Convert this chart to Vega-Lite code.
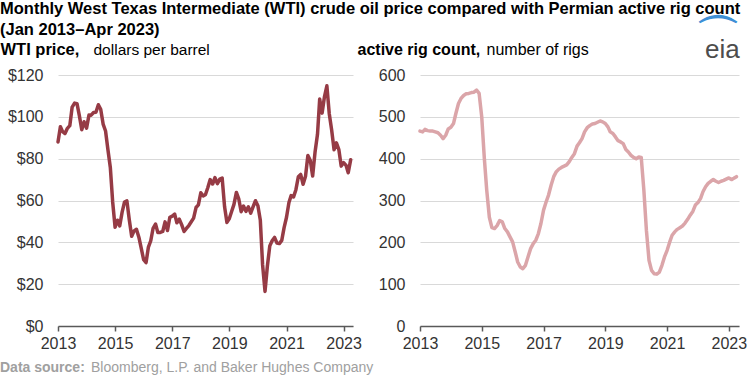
{
  "$schema": "https://vega.github.io/schema/vega-lite/v6.json",
  "padding": 0,
  "background": "#ffffff",
  "datasets": {
    "monthly": [
      {"date":"2013-01","wti":88.0,"rigs":466},{"date":"2013-02","wti":95.31,"rigs":464},{"date":"2013-03","wti":92.94,"rigs":470},{"date":"2013-04","wti":92.02,"rigs":467},{"date":"2013-05","wti":94.51,"rigs":466},{"date":"2013-06","wti":95.77,"rigs":466},{"date":"2013-07","wti":104.67,"rigs":464},{"date":"2013-08","wti":106.57,"rigs":462},{"date":"2013-09","wti":106.29,"rigs":456},{"date":"2013-10","wti":100.54,"rigs":448},{"date":"2013-11","wti":93.86,"rigs":456},{"date":"2013-12","wti":97.63,"rigs":471},
      {"date":"2014-01","wti":94.62,"rigs":475},{"date":"2014-02","wti":100.82,"rigs":484},{"date":"2014-03","wti":100.8,"rigs":508},{"date":"2014-04","wti":102.07,"rigs":532},{"date":"2014-05","wti":102.18,"rigs":544},{"date":"2014-06","wti":105.79,"rigs":551},{"date":"2014-07","wti":103.59,"rigs":555},{"date":"2014-08","wti":96.54,"rigs":556},{"date":"2014-09","wti":93.21,"rigs":558},{"date":"2014-10","wti":84.4,"rigs":559},{"date":"2014-11","wti":75.79,"rigs":564},{"date":"2014-12","wti":59.29,"rigs":556},
      {"date":"2015-01","wti":47.22,"rigs":500},{"date":"2015-02","wti":50.58,"rigs":400},{"date":"2015-03","wti":47.82,"rigs":325},{"date":"2015-04","wti":54.45,"rigs":260},{"date":"2015-05","wti":59.27,"rigs":235},{"date":"2015-06","wti":59.82,"rigs":233},{"date":"2015-07","wti":50.9,"rigs":240},{"date":"2015-08","wti":42.87,"rigs":252},{"date":"2015-09","wti":45.48,"rigs":249},{"date":"2015-10","wti":46.22,"rigs":233},{"date":"2015-11","wti":42.44,"rigs":225},{"date":"2015-12","wti":37.19,"rigs":213},
      {"date":"2016-01","wti":31.68,"rigs":201},{"date":"2016-02","wti":30.32,"rigs":177},{"date":"2016-03","wti":37.55,"rigs":153},{"date":"2016-04","wti":40.75,"rigs":141},{"date":"2016-05","wti":46.71,"rigs":137},{"date":"2016-06","wti":48.76,"rigs":145},{"date":"2016-07","wti":44.65,"rigs":165},{"date":"2016-08","wti":44.72,"rigs":185},{"date":"2016-09","wti":45.18,"rigs":197},{"date":"2016-10","wti":49.78,"rigs":205},{"date":"2016-11","wti":45.66,"rigs":221},{"date":"2016-12","wti":51.97,"rigs":245},
      {"date":"2017-01","wti":52.5,"rigs":277},{"date":"2017-02","wti":53.47,"rigs":297},{"date":"2017-03","wti":49.33,"rigs":313},{"date":"2017-04","wti":51.06,"rigs":337},{"date":"2017-05","wti":48.48,"rigs":357},{"date":"2017-06","wti":45.18,"rigs":369},{"date":"2017-07","wti":46.63,"rigs":375},{"date":"2017-08","wti":48.04,"rigs":379},{"date":"2017-09","wti":49.82,"rigs":382},{"date":"2017-10","wti":51.58,"rigs":385},{"date":"2017-11","wti":56.64,"rigs":393},{"date":"2017-12","wti":57.88,"rigs":403},
      {"date":"2018-01","wti":63.7,"rigs":412},{"date":"2018-02","wti":62.23,"rigs":430},{"date":"2018-03","wti":62.73,"rigs":438},{"date":"2018-04","wti":66.25,"rigs":448},{"date":"2018-05","wti":69.98,"rigs":464},{"date":"2018-06","wti":67.87,"rigs":474},{"date":"2018-07","wti":70.98,"rigs":479},{"date":"2018-08","wti":68.06,"rigs":483},{"date":"2018-09","wti":70.23,"rigs":484},{"date":"2018-10","wti":70.75,"rigs":487},{"date":"2018-11","wti":56.96,"rigs":490},{"date":"2018-12","wti":49.52,"rigs":488},
      {"date":"2019-01","wti":51.38,"rigs":484},{"date":"2019-02","wti":54.95,"rigs":476},{"date":"2019-03","wti":58.15,"rigs":464},{"date":"2019-04","wti":63.86,"rigs":460},{"date":"2019-05","wti":60.83,"rigs":452},{"date":"2019-06","wti":54.66,"rigs":443},{"date":"2019-07","wti":57.35,"rigs":440},{"date":"2019-08","wti":54.81,"rigs":436},{"date":"2019-09","wti":56.95,"rigs":422},{"date":"2019-10","wti":53.96,"rigs":416},{"date":"2019-11","wti":57.03,"rigs":408},{"date":"2019-12","wti":59.88,"rigs":403},
      {"date":"2020-01","wti":57.52,"rigs":400},{"date":"2020-02","wti":50.54,"rigs":404},{"date":"2020-03","wti":29.21,"rigs":403},{"date":"2020-04","wti":16.55,"rigs":325},{"date":"2020-05","wti":28.56,"rigs":229},{"date":"2020-06","wti":38.31,"rigs":157},{"date":"2020-07","wti":40.71,"rigs":133},{"date":"2020-08","wti":42.34,"rigs":125},{"date":"2020-09","wti":39.63,"rigs":124},{"date":"2020-10","wti":39.4,"rigs":129},{"date":"2020-11","wti":40.94,"rigs":145},{"date":"2020-12","wti":47.02,"rigs":165},
      {"date":"2021-01","wti":52.0,"rigs":181},{"date":"2021-02","wti":59.04,"rigs":201},{"date":"2021-03","wti":62.33,"rigs":217},{"date":"2021-04","wti":61.72,"rigs":225},{"date":"2021-05","wti":65.17,"rigs":231},{"date":"2021-06","wti":71.38,"rigs":235},{"date":"2021-07","wti":72.49,"rigs":239},{"date":"2021-08","wti":67.73,"rigs":246},{"date":"2021-09","wti":71.65,"rigs":255},{"date":"2021-10","wti":81.48,"rigs":265},{"date":"2021-11","wti":79.15,"rigs":274},{"date":"2021-12","wti":71.71,"rigs":289},
      {"date":"2022-01","wti":83.22,"rigs":295},{"date":"2022-02","wti":91.64,"rigs":305},{"date":"2022-03","wti":108.5,"rigs":321},{"date":"2022-04","wti":101.78,"rigs":333},{"date":"2022-05","wti":109.55,"rigs":341},{"date":"2022-06","wti":114.84,"rigs":346},{"date":"2022-07","wti":101.62,"rigs":350},{"date":"2022-08","wti":93.67,"rigs":346},{"date":"2022-09","wti":84.26,"rigs":343},{"date":"2022-10","wti":87.55,"rigs":346},{"date":"2022-11","wti":84.37,"rigs":348},{"date":"2022-12","wti":76.44,"rigs":351},
      {"date":"2023-01","wti":78.12,"rigs":354},{"date":"2023-02","wti":76.83,"rigs":350},{"date":"2023-03","wti":73.28,"rigs":353},{"date":"2023-04","wti":79.45,"rigs":357}
    ]
  },
  "title": {
    "text": ["Monthly West Texas Intermediate (WTI) crude oil price compared with Permian active rig count", "(Jan 2013–Apr 2023)"],
    "anchor": "start",
    "frame": "bounds",
    "font": "Liberation Sans",
    "fontSize": 16.5,
    "fontWeight": "bold",
    "color": "#000000",
    "lineHeight": 21,
    "offset": -22
  },
  "vconcat": [
    {
      "title": {
        "text": "⌒",
        "subtitle": "eia",
        "anchor": "end",
        "frame": "bounds",
        "font": "DejaVu Sans",
        "fontSize": 44,
        "fontWeight": "bold",
        "color": "#3d8fd6",
        "subtitleFont": "Liberation Sans",
        "subtitleFontSize": 26,
        "subtitleColor": "#4d4d4d",
        "subtitlePadding": -23,
        "offset": -22,
        "dx": -7
      },
      "spacing": 67,
      "bounds": "flush",
      "hconcat": [
        {
          "width": 295,
          "height": 251,
          "data": {"name": "monthly"},
          "title": {
            "text": "Data source:",
            "orient": "bottom",
            "anchor": "start",
            "frame": "group",
            "dx": -58,
            "offset": 10,
            "font": "Liberation Sans",
            "fontSize": 14,
            "fontWeight": "bold",
            "color": "#a0a0a0"
          },
          "mark": {"type": "line", "color": "#963b45", "strokeWidth": 3.5, "strokeJoin": "round", "strokeCap": "round"},
          "encoding": {
            "x": {
              "field": "date", "type": "temporal",
              "scale": {"type": "utc", "domain": [{"year": 2013, "month": 1, "date": 1, "utc": true}, {"year": 2023, "month": 5, "date": 1, "utc": true}]},
              "axis": {
                "values": [{"year": 2013, "month": 1, "date": 1, "utc": true}, {"year": 2015, "month": 1, "date": 1, "utc": true}, {"year": 2017, "month": 1, "date": 1, "utc": true}, {"year": 2019, "month": 1, "date": 1, "utc": true}, {"year": 2021, "month": 1, "date": 1, "utc": true}, {"year": 2023, "month": 1, "date": 1, "utc": true}],
                "format": "%Y",
                "title": "WTI price,",
                "titleX": -58,
                "titleY": -272,
                "titleAngle": 0,
                "titleAlign": "left",
                "titleBaseline": "alphabetic",
                "titleFontWeight": "bold",
                "titleFontSize": 16.5
              }
            },
            "y": {
              "field": "wti", "type": "quantitative",
              "scale": {"domain": [0, 120]},
              "axis": {
                "values": [0, 20, 40, 60, 80, 100, 120],
                "format": "$.0f",
                "title": "dollars per barrel",
                "titleX": 35,
                "titleY": -21,
                "titleAngle": 0,
                "titleAlign": "left",
                "titleBaseline": "alphabetic",
                "titleFontWeight": "normal",
                "titleFontSize": 15.5
              }
            }
          }
        },
        {
          "width": 319,
          "height": 251,
          "data": {"name": "monthly"},
          "title": {
            "text": "Bloomberg, L.P. and Baker Hughes Company",
            "orient": "bottom",
            "anchor": "start",
            "frame": "group",
            "dx": -329,
            "offset": 10,
            "font": "Liberation Sans",
            "fontSize": 14,
            "fontWeight": "normal",
            "color": "#a0a0a0"
          },
          "mark": {"type": "line", "color": "#dba5a9", "strokeWidth": 3.5, "strokeJoin": "round", "strokeCap": "round"},
          "encoding": {
            "x": {
              "field": "date", "type": "temporal",
              "scale": {"type": "utc", "domain": [{"year": 2013, "month": 1, "date": 1, "utc": true}, {"year": 2023, "month": 5, "date": 1, "utc": true}]},
              "axis": {
                "values": [{"year": 2013, "month": 1, "date": 1, "utc": true}, {"year": 2015, "month": 1, "date": 1, "utc": true}, {"year": 2017, "month": 1, "date": 1, "utc": true}, {"year": 2019, "month": 1, "date": 1, "utc": true}, {"year": 2021, "month": 1, "date": 1, "utc": true}, {"year": 2023, "month": 1, "date": 1, "utc": true}],
                "format": "%Y",
                "title": "active rig count,",
                "titleX": -63,
                "titleY": -272,
                "titleAngle": 0,
                "titleAlign": "left",
                "titleBaseline": "alphabetic",
                "titleFontWeight": "bold",
                "titleFontSize": 16
              }
            },
            "y": {
              "field": "rigs", "type": "quantitative",
              "scale": {"domain": [0, 600]},
              "axis": {
                "values": [0, 100, 200, 300, 400, 500, 600],
                "format": "d",
                "title": "number of rigs",
                "titleX": 66,
                "titleY": -21,
                "titleAngle": 0,
                "titleAlign": "left",
                "titleBaseline": "alphabetic",
                "titleFontWeight": "normal",
                "titleFontSize": 16
              }
            }
          }
        }
      ]
    }
  ],
  "config": {
    "view": {"stroke": null},
    "font": "Liberation Sans",
    "axisX": {
      "grid": false,
      "domain": true,
      "domainColor": "#595959",
      "domainWidth": 1.5,
      "ticks": true,
      "tickColor": "#595959",
      "tickWidth": 1.5,
      "tickSize": 5,
      "labelFont": "Liberation Sans",
      "labelFontSize": 16,
      "labelColor": "#333333",
      "labelPadding": 4,
      "labelFlush": false,
      "labelOverlap": false,
      "titleFont": "Liberation Sans",
      "titleColor": "#000000"
    },
    "axisY": {
      "grid": true,
      "gridColor": "#d9d9d9",
      "gridWidth": 1,
      "domain": false,
      "ticks": false,
      "tickSize": 0,
      "labelFont": "Liberation Sans",
      "labelFontSize": 16,
      "labelColor": "#333333",
      "labelPadding": 15,
      "labelOverlap": false,
      "titleFont": "Liberation Sans",
      "titleColor": "#000000"
    }
  }
}
